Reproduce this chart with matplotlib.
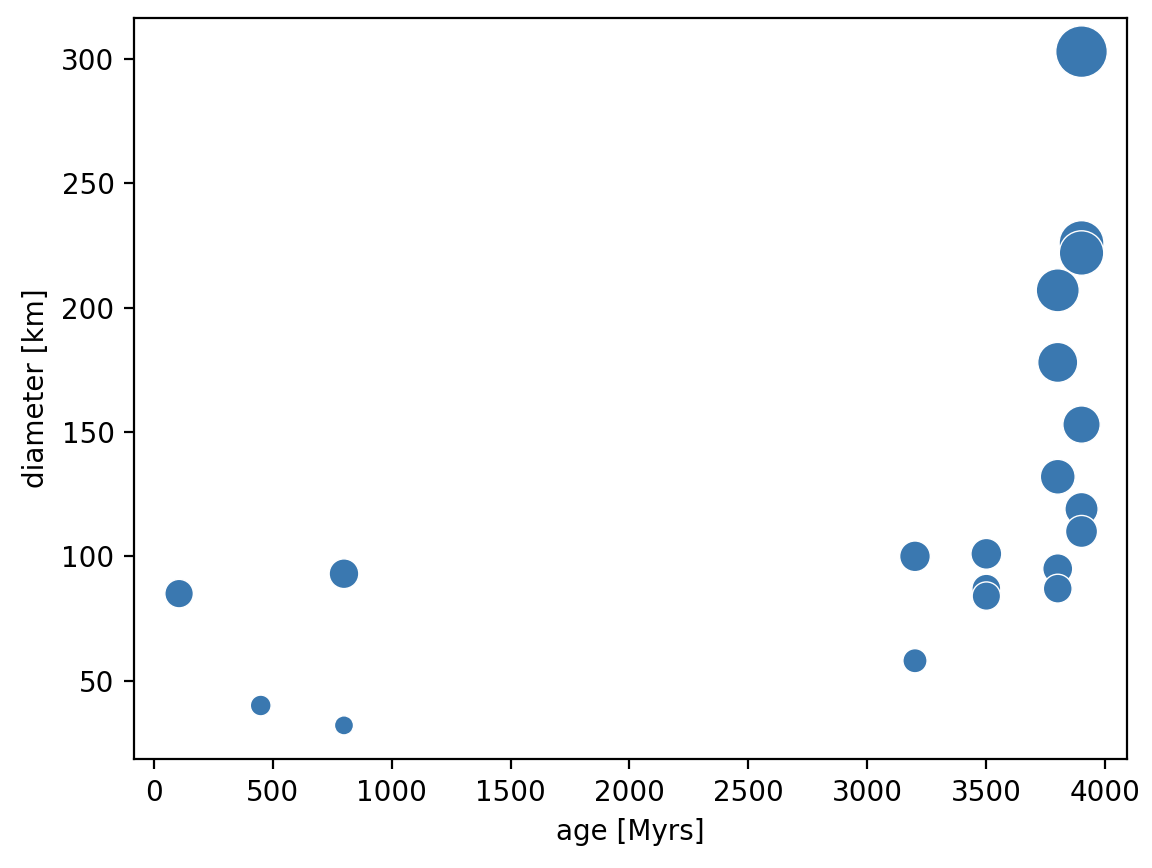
import numpy as np
import matplotlib
matplotlib.use("Agg")
import matplotlib.pyplot as plt

# crater ages and diameters
age = [3900, 3900, 3900, 3800, 3800, 3900, 3800, 3900, 3900, 3200,
       3500, 3500, 3500, 3800, 3800, 3200, 107, 800, 450, 800]
diameter = [303, 226, 222, 207, 178, 153, 132, 119, 110, 100,
            101, 87, 84, 95, 87, 58, 85, 93, 40, 32]

# marker area grows with crater diameter
sizes = np.array(diameter) * 1.1 + 12

fig = plt.figure(figsize=(5.76, 4.34), dpi=200)
ax = fig.add_axes([0.1163, 0.1255, 0.978 - 0.1163, 0.9793 - 0.1255])

ax.scatter(age, diameter, s=sizes, color="#3a78b0",
           edgecolors="white", linewidths=0.5)
ax.set_xlabel("age [Myrs]")
ax.set_ylabel("diameter [km]")

fig.savefig("out.png", dpi=200)
